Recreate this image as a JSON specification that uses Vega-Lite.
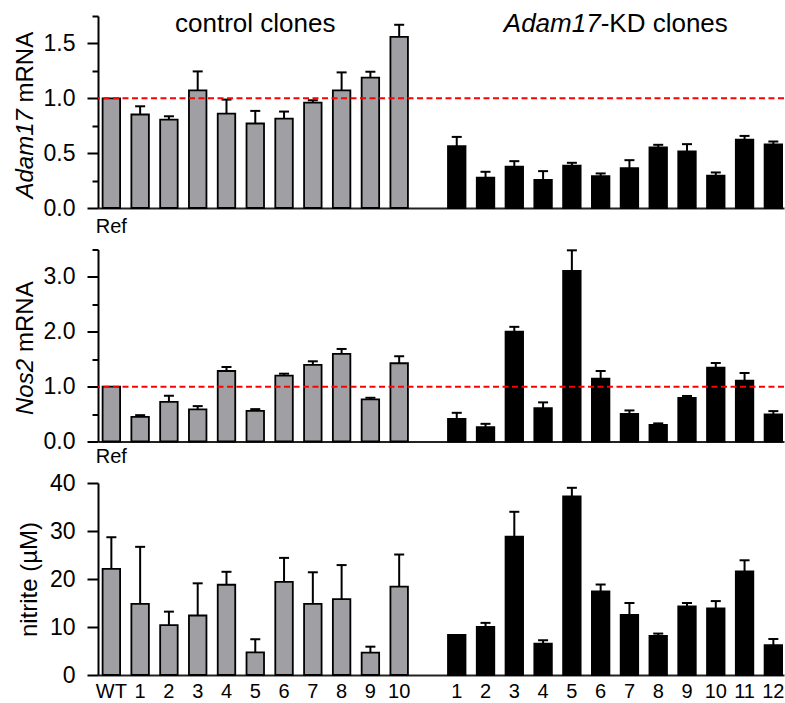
{
  "$schema": "https://vega.github.io/schema/vega-lite/v6.json",
  "padding": {"left": 13, "top": 5, "right": 0, "bottom": 0},
  "background": "white",
  "config": {
    "font": "Liberation Sans",
    "view": {"stroke": null},
    "axis": {"labelFont": "Liberation Sans", "titleFont": "Liberation Sans", "labelColor": "black", "titleColor": "black", "domainColor": "black", "tickColor": "black", "grid": false, "titleFontWeight": "normal"}
  },
  "datasets": {
    "bars": [
      {"p": "adam", "k": "WT", "g": "c", "v": 1.0},
      {"p": "adam", "k": "C1", "g": "c", "v": 0.852, "hi": 0.927},
      {"p": "adam", "k": "C2", "g": "c", "v": 0.806, "hi": 0.836},
      {"p": "adam", "k": "C3", "g": "c", "v": 1.073, "hi": 1.245},
      {"p": "adam", "k": "C4", "g": "c", "v": 0.861, "hi": 0.988},
      {"p": "adam", "k": "C5", "g": "c", "v": 0.77, "hi": 0.885},
      {"p": "adam", "k": "C6", "g": "c", "v": 0.815, "hi": 0.879},
      {"p": "adam", "k": "C7", "g": "c", "v": 0.961, "hi": 0.982},
      {"p": "adam", "k": "C8", "g": "c", "v": 1.073, "hi": 1.236},
      {"p": "adam", "k": "C9", "g": "c", "v": 1.188, "hi": 1.242},
      {"p": "adam", "k": "C10", "g": "c", "v": 1.56, "hi": 1.67},
      {"p": "adam", "k": "K1", "g": "k", "v": 0.564, "hi": 0.648},
      {"p": "adam", "k": "K2", "g": "k", "v": 0.276, "hi": 0.33},
      {"p": "adam", "k": "K3", "g": "k", "v": 0.376, "hi": 0.427},
      {"p": "adam", "k": "K4", "g": "k", "v": 0.255, "hi": 0.336},
      {"p": "adam", "k": "K5", "g": "k", "v": 0.385, "hi": 0.412},
      {"p": "adam", "k": "K6", "g": "k", "v": 0.291, "hi": 0.315},
      {"p": "adam", "k": "K7", "g": "k", "v": 0.364, "hi": 0.436},
      {"p": "adam", "k": "K8", "g": "k", "v": 0.552, "hi": 0.576},
      {"p": "adam", "k": "K9", "g": "k", "v": 0.515, "hi": 0.582},
      {"p": "adam", "k": "K10", "g": "k", "v": 0.294, "hi": 0.324},
      {"p": "adam", "k": "K11", "g": "k", "v": 0.624, "hi": 0.657},
      {"p": "adam", "k": "K12", "g": "k", "v": 0.579, "hi": 0.606},
      {"p": "nos", "k": "WT", "g": "c", "v": 1.0},
      {"p": "nos", "k": "C1", "g": "c", "v": 0.45, "hi": 0.48},
      {"p": "nos", "k": "C2", "g": "c", "v": 0.724, "hi": 0.834},
      {"p": "nos", "k": "C3", "g": "c", "v": 0.585, "hi": 0.645},
      {"p": "nos", "k": "C4", "g": "c", "v": 1.285, "hi": 1.358},
      {"p": "nos", "k": "C5", "g": "c", "v": 0.56, "hi": 0.59},
      {"p": "nos", "k": "C6", "g": "c", "v": 1.2, "hi": 1.236},
      {"p": "nos", "k": "C7", "g": "c", "v": 1.395, "hi": 1.462},
      {"p": "nos", "k": "C8", "g": "c", "v": 1.596, "hi": 1.687},
      {"p": "nos", "k": "C9", "g": "c", "v": 0.768, "hi": 0.797},
      {"p": "nos", "k": "C10", "g": "c", "v": 1.426, "hi": 1.554},
      {"p": "nos", "k": "K1", "g": "k", "v": 0.413, "hi": 0.523},
      {"p": "nos", "k": "K2", "g": "k", "v": 0.261, "hi": 0.322},
      {"p": "nos", "k": "K3", "g": "k", "v": 2.004, "hi": 2.09},
      {"p": "nos", "k": "K4", "g": "k", "v": 0.609, "hi": 0.713},
      {"p": "nos", "k": "K5", "g": "k", "v": 3.108, "hi": 3.485},
      {"p": "nos", "k": "K6", "g": "k", "v": 1.145, "hi": 1.285},
      {"p": "nos", "k": "K7", "g": "k", "v": 0.505, "hi": 0.566},
      {"p": "nos", "k": "K8", "g": "k", "v": 0.304, "hi": 0.33},
      {"p": "nos", "k": "K9", "g": "k", "v": 0.797, "hi": 0.83},
      {"p": "nos", "k": "K10", "g": "k", "v": 1.346, "hi": 1.431},
      {"p": "nos", "k": "K11", "g": "k", "v": 1.108, "hi": 1.249},
      {"p": "nos", "k": "K12", "g": "k", "v": 0.494, "hi": 0.554},
      {"p": "nit", "k": "WT", "g": "c", "v": 22.1, "hi": 28.7},
      {"p": "nit", "k": "C1", "g": "c", "v": 14.8, "hi": 26.7},
      {"p": "nit", "k": "C2", "g": "c", "v": 10.4, "hi": 13.2},
      {"p": "nit", "k": "C3", "g": "c", "v": 12.4, "hi": 19.1},
      {"p": "nit", "k": "C4", "g": "c", "v": 18.8, "hi": 21.5},
      {"p": "nit", "k": "C5", "g": "c", "v": 4.7, "hi": 7.45},
      {"p": "nit", "k": "C6", "g": "c", "v": 19.4, "hi": 24.4},
      {"p": "nit", "k": "C7", "g": "c", "v": 14.8, "hi": 21.4},
      {"p": "nit", "k": "C8", "g": "c", "v": 15.8, "hi": 22.9},
      {"p": "nit", "k": "C9", "g": "c", "v": 4.66, "hi": 5.9},
      {"p": "nit", "k": "C10", "g": "c", "v": 18.4, "hi": 25.1},
      {"p": "nit", "k": "K1", "g": "k", "v": 8.35},
      {"p": "nit", "k": "K2", "g": "k", "v": 10.0, "hi": 10.86},
      {"p": "nit", "k": "K3", "g": "k", "v": 28.8, "hi": 34.0},
      {"p": "nit", "k": "K4", "g": "k", "v": 6.55, "hi": 7.24},
      {"p": "nit", "k": "K5", "g": "k", "v": 37.2, "hi": 39.0},
      {"p": "nit", "k": "K6", "g": "k", "v": 17.4, "hi": 18.85},
      {"p": "nit", "k": "K7", "g": "k", "v": 12.5, "hi": 15.0},
      {"p": "nit", "k": "K8", "g": "k", "v": 8.14, "hi": 8.63},
      {"p": "nit", "k": "K9", "g": "k", "v": 14.3, "hi": 15.0},
      {"p": "nit", "k": "K10", "g": "k", "v": 13.85, "hi": 15.4},
      {"p": "nit", "k": "K11", "g": "k", "v": 21.6, "hi": 23.9},
      {"p": "nit", "k": "K12", "g": "k", "v": 6.2, "hi": 7.5}
    ],
    "labels": [
      {"k": "C5", "y": 1.6, "t": "control clones", "a": "center"},
      {"k": "K6", "y": 1.6, "t": "Adam17", "a": "right"},
      {"k": "K6", "y": 1.6, "t": "-KD clones", "a": "left"}
    ]
  },
  "spacing": 41.5,
  "bounds": "flush",
  "vconcat": [
    {
      "width": 686,
      "height": 192,
      "resolve": {"axis": {"y": "independent"}},
      "layer": [
        {
          "data": {"name": "bars"},
          "transform": [{"filter": "datum.p == 'adam'"}],
          "mark": {"type": "bar", "stroke": "black", "strokeWidth": 1.8},
          "encoding": {
            "x": {"field": "k", "type": "nominal",
              "scale": {"domain": ["WT","C1","C2","C3","C4","C5","C6","C7","C8","C9","C10","GAP","K1","K2","K3","K4","K5","K6","K7","K8","K9","K10","K11","K12"], "paddingInner": 0.392, "paddingOuter": 0.113, "align": 0.708},
              "axis": {"title": null, "ticks": false, "tickSize": 0, "domainWidth": 2, "domainColor": "#222", "labelAngle": 0, "labelFontSize": 20, "labelPadding": 8, "labelOverlap": false, "labelExpr": "datum.value == 'WT' ? 'Ref' : ''"}},
            "y": {"field": "v", "type": "quantitative", "scale": {"domain": [0, 1.75], "nice": false, "zero": true},
              "axis": {"values": [0,0.25,0.5,0.75,1,1.25,1.5,1.75], "labelExpr": "datum.value % 0.5 == 0 ? format(datum.value, '.1f') : ''", "tickSize": {"condition": {"test": "datum.value % 0.5 == 0", "value": 11}, "value": 6}, "tickWidth": 2, "domainWidth": 2, "labelFontSize": 23, "labelPadding": 12, "labelOverlap": false, "labelBound": false,
                "title": "mRNA", "titleFontSize": 24, "titleX": -66, "titleY": 86, "titleAlign": "left", "titleAngle": -90, "titleBaseline": "alphabetic"}},
            "fill": {"field": "g", "type": "nominal", "scale": {"domain": ["c","k"], "range": ["#a0a0a4","#000000"]}, "legend": null}
          }
        },
        {
          "data": {"name": "bars"},
          "transform": [{"filter": "datum.p == 'adam' && datum.hi != null"}],
          "mark": {"type": "rule", "color": "black", "strokeWidth": 2},
          "encoding": {
            "x": {"field": "k", "type": "nominal"},
            "y": {"field": "v", "type": "quantitative", "axis": null},
            "y2": {"field": "hi"}
          }
        },
        {
          "data": {"name": "bars"},
          "transform": [{"filter": "datum.p == 'adam' && datum.hi != null"}],
          "mark": {"type": "tick", "color": "black", "thickness": 2, "size": 10, "opacity": 1},
          "encoding": {
            "x": {"field": "k", "type": "nominal"},
            "y": {"field": "hi", "type": "quantitative", "axis": null}
          }
        },
        {
          "data": {"values": [{}]},
          "mark": {"type": "rule", "color": "#ff0000", "strokeWidth": 2, "strokeDash": [6, 3.5]},
          "encoding": {
            "y": {"datum": 1, "type": "quantitative",
              "axis": {"orient": "left", "domain": false, "ticks": false, "labels": false, "title": "Adam17", "titleFontStyle": "italic", "titleFontSize": 24, "titleX": -66, "titleY": 182, "titleAlign": "left", "titleAngle": -90, "titleBaseline": "alphabetic"}}
          }
        },
        {
          "data": {"name": "labels"},
          "transform": [{"filter": "datum.a == 'center'"}],
          "mark": {"type": "text", "fontSize": 26, "baseline": "alphabetic", "align": "center", "color": "black"},
          "encoding": {
            "x": {"field": "k", "type": "nominal"},
            "y": {"field": "y", "type": "quantitative", "axis": null},
            "text": {"field": "t"}
          }
        },
        {
          "data": {"name": "labels"},
          "transform": [{"filter": "datum.a == 'right'"}],
          "mark": {"type": "text", "fontSize": 26, "baseline": "alphabetic", "align": "right", "fontStyle": "italic", "color": "black"},
          "encoding": {
            "x": {"field": "k", "type": "nominal"},
            "y": {"field": "y", "type": "quantitative", "axis": null},
            "text": {"field": "t"}
          }
        },
        {
          "data": {"name": "labels"},
          "transform": [{"filter": "datum.a == 'left'"}],
          "mark": {"type": "text", "fontSize": 26, "baseline": "alphabetic", "align": "left", "color": "black"},
          "encoding": {
            "x": {"field": "k", "type": "nominal"},
            "y": {"field": "y", "type": "quantitative", "axis": null},
            "text": {"field": "t"}
          }
        }
      ]
    },
    {
      "width": 686,
      "height": 192,
      "resolve": {"axis": {"y": "independent"}},
      "layer": [
        {
          "data": {"name": "bars"},
          "transform": [{"filter": "datum.p == 'nos'"}],
          "mark": {"type": "bar", "stroke": "black", "strokeWidth": 1.8},
          "encoding": {
            "x": {"field": "k", "type": "nominal",
              "scale": {"domain": ["WT","C1","C2","C3","C4","C5","C6","C7","C8","C9","C10","GAP","K1","K2","K3","K4","K5","K6","K7","K8","K9","K10","K11","K12"], "paddingInner": 0.392, "paddingOuter": 0.113, "align": 0.708},
              "axis": {"title": null, "ticks": false, "tickSize": 0, "domainWidth": 2, "domainColor": "#222", "labelAngle": 0, "labelFontSize": 20, "labelPadding": 4.5, "labelOverlap": false, "labelExpr": "datum.value == 'WT' ? 'Ref' : ''"}},
            "y": {"field": "v", "type": "quantitative", "scale": {"domain": [0, 3.5], "nice": false, "zero": true},
              "axis": {"values": [0,0.5,1,1.5,2,2.5,3,3.5], "labelExpr": "datum.value % 1 == 0 ? format(datum.value, '.1f') : ''", "tickSize": {"condition": {"test": "datum.value % 1 == 0", "value": 11}, "value": 6}, "tickWidth": 2, "domainWidth": 2, "labelFontSize": 23, "labelPadding": 12, "labelOverlap": false, "labelBound": false,
                "title": "mRNA", "titleFontSize": 24, "titleX": -66, "titleY": 102, "titleAlign": "left", "titleAngle": -90, "titleBaseline": "alphabetic"}},
            "fill": {"field": "g", "type": "nominal", "scale": {"domain": ["c","k"], "range": ["#a0a0a4","#000000"]}, "legend": null}
          }
        },
        {
          "data": {"name": "bars"},
          "transform": [{"filter": "datum.p == 'nos' && datum.hi != null"}],
          "mark": {"type": "rule", "color": "black", "strokeWidth": 2},
          "encoding": {
            "x": {"field": "k", "type": "nominal"},
            "y": {"field": "v", "type": "quantitative", "axis": null},
            "y2": {"field": "hi"}
          }
        },
        {
          "data": {"name": "bars"},
          "transform": [{"filter": "datum.p == 'nos' && datum.hi != null"}],
          "mark": {"type": "tick", "color": "black", "thickness": 2, "size": 10, "opacity": 1},
          "encoding": {
            "x": {"field": "k", "type": "nominal"},
            "y": {"field": "hi", "type": "quantitative", "axis": null}
          }
        },
        {
          "data": {"values": [{}]},
          "mark": {"type": "rule", "color": "#ff0000", "strokeWidth": 2, "strokeDash": [6, 3.5]},
          "encoding": {
            "y": {"datum": 1, "type": "quantitative",
              "axis": {"orient": "left", "domain": false, "ticks": false, "labels": false, "title": "Nos2", "titleFontStyle": "italic", "titleFontSize": 24, "titleX": -66, "titleY": 165, "titleAlign": "left", "titleAngle": -90, "titleBaseline": "alphabetic"}}
          }
        }
      ]
    },
    {
      "width": 686,
      "height": 192,
      "layer": [
        {
          "data": {"name": "bars"},
          "transform": [{"filter": "datum.p == 'nit'"}],
          "mark": {"type": "bar", "stroke": "black", "strokeWidth": 1.8},
          "encoding": {
            "x": {"field": "k", "type": "nominal",
              "scale": {"domain": ["WT","C1","C2","C3","C4","C5","C6","C7","C8","C9","C10","GAP","K1","K2","K3","K4","K5","K6","K7","K8","K9","K10","K11","K12"], "paddingInner": 0.392, "paddingOuter": 0.113, "align": 0.708},
              "axis": {"title": null, "ticks": false, "tickSize": 0, "domainWidth": 2, "domainColor": "#222", "labelAngle": 0, "labelFontSize": 20, "labelPadding": 6, "labelOverlap": false, "labelExpr": "datum.value == 'GAP' ? '' : datum.value == 'WT' ? 'WT' : substring(datum.value, 1)"}},
            "y": {"field": "v", "type": "quantitative", "scale": {"domain": [0, 40], "nice": false, "zero": true},
              "axis": {"values": [0,5,10,15,20,25,30,35,40], "labelExpr": "datum.value % 10 == 0 ? format(datum.value, 'd') : ''", "tickSize": {"condition": {"test": "datum.value % 10 == 0", "value": 11}, "value": 6}, "tickWidth": 2, "domainWidth": 2, "labelFontSize": 23, "labelPadding": 12, "labelOverlap": false, "labelBound": false,
                "title": "nitrite (µM)", "titleFontSize": 24, "titleX": -62, "titleY": 96, "titleAlign": "center", "titleAngle": -90, "titleBaseline": "alphabetic"}},
            "fill": {"field": "g", "type": "nominal", "scale": {"domain": ["c","k"], "range": ["#a0a0a4","#000000"]}, "legend": null}
          }
        },
        {
          "data": {"name": "bars"},
          "transform": [{"filter": "datum.p == 'nit' && datum.hi != null"}],
          "mark": {"type": "rule", "color": "black", "strokeWidth": 2},
          "encoding": {
            "x": {"field": "k", "type": "nominal"},
            "y": {"field": "v", "type": "quantitative"},
            "y2": {"field": "hi"}
          }
        },
        {
          "data": {"name": "bars"},
          "transform": [{"filter": "datum.p == 'nit' && datum.hi != null"}],
          "mark": {"type": "tick", "color": "black", "thickness": 2, "size": 10, "opacity": 1},
          "encoding": {
            "x": {"field": "k", "type": "nominal"},
            "y": {"field": "hi", "type": "quantitative"}
          }
        }
      ]
    }
  ]
}
